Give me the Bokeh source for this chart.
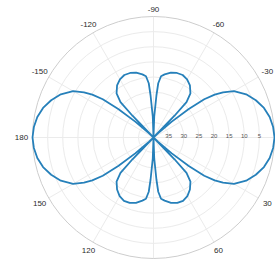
import numpy as np
from bokeh.plotting import figure
from bokeh.models import Range1d
from bokeh.core.properties import value
from bokeh.embed import file_html
from bokeh.resources import INLINE

# ---- data (angle in degrees, clockwise from 0 at right; radial value, 40 at centre, 0 at rim)
theta_deg = [-180, -175, -170, -165, -160, -155, -150, -147, -145, -143, -141, -139, -137, -135,
             -134, -133, -130, -125, -120, -115, -110, -105, -100, -97, -95, -94, -92, -90,
             -88, -86, -85, -83, -80, -75, -70, -65, -60, -55, -50, -47, -46, -45,
             -43, -41, -39, -37, -35, -33, -30, -25, -20, -15, -10, -5, 0,
             5, 10, 15, 20, 25, 30, 33, 35, 37, 39, 41, 43, 45,
             46, 47, 50, 55, 60, 65, 70, 75, 80, 83, 85, 86, 88, 90,
             92, 94, 95, 97, 100, 105, 110, 115, 120, 125, 130, 133, 134, 135,
             137, 139, 141, 143, 145, 147, 150, 155, 160, 165, 170, 175, 180]
level = [0, 0.3, 1.0, 2.2, 4.0, 6.2, 9.3, 12.6, 15.3, 19, 25, 32, 38, 40,
         30, 24, 21, 19, 17.8, 17.2, 17.3, 17.8, 18.8, 19.6, 22, 26, 33, 40,
         33, 26, 22, 19.6, 18.8, 17.8, 17.3, 17.2, 17.8, 19, 21, 24, 30, 40,
         38, 32, 25, 19, 15.3, 12.6, 9.3, 6.2, 4.0, 2.2, 1.0, 0.3, 0,
         0.3, 1.0, 2.2, 4.0, 6.2, 9.3, 12.6, 15.3, 19, 25, 32, 38, 40,
         30, 24, 21, 19, 17.6, 16.9, 17.0, 17.6, 18.8, 19.6, 22, 26, 33, 40,
         33, 26, 22, 19.6, 18.8, 17.6, 17.0, 16.9, 17.6, 19, 21, 24, 30, 40,
         38, 32, 25, 19, 15.3, 12.6, 9.3, 6.2, 4.0, 2.2, 1.0, 0.3, 0]

theta_ticks = [-150, -120, -90, -60, -30, 0, 30, 60, 90, 120, 150, 180]
theta_labels = ["-150", "-120", "-90", "-60", "-30", "0", "30", "60", "90", "120", "150", "180"]
r_ticks = [35, 30, 25, 20, 15, 10, 5]
r_labels = ["35", "30", "25", "20", "15", "10", "5"]
r_center, r_rim = 40, 0

# ---- polar scale (pixels)
R = 121.0
def rad(v):
    return (r_center - np.asarray(v, dtype=float)) / (r_center - r_rim) * R

def xy(theta, v):
    t = np.deg2rad(np.asarray(theta, dtype=float))
    d = rad(v)
    return d * np.cos(t), -d * np.sin(t)

p = figure(width=275, height=262, x_range=Range1d(-153, 122), y_range=Range1d(-125, 137),
           output_backend="svg", toolbar_location=None, min_border=0)
p.xaxis.visible = False
p.yaxis.visible = False
p.grid.visible = False
p.outline_line_color = None
p.background_fill_color = "white"
p.border_fill_color = "white"

# grid rings
ring_r = [float(rad(v)) for v in r_ticks]
p.circle(x=[0] * len(ring_r), y=[0] * len(ring_r), radius=ring_r,
         fill_color=None, line_color="#ebebeb", line_width=1)
# spokes
sx, sy = xy(theta_ticks, [r_rim] * len(theta_ticks))
p.segment(x0=[0] * len(sx), y0=[0] * len(sx), x1=sx, y1=sy, line_color="#ebebeb", line_width=1)
# outer rim
p.circle(x=[0], y=[0], radius=[R], fill_color=None, line_color="#cdcdcd", line_width=1)

# curve
cx, cy = xy(theta_deg, level)
p.line(cx, cy, line_color="#2680ba", line_width=1.8)

# theta labels (only those inside the visible window)
t = np.deg2rad(np.asarray(theta_ticks, dtype=float))
dl = R + 7 + 4 * np.abs(np.cos(t))
lx, ly = dl * np.cos(t), -dl * np.sin(t)
keep = [i for i in range(len(theta_ticks)) if -150 < lx[i] < 117 and -121 < ly[i] < 134]
p.text(x=[lx[i] for i in keep], y=[ly[i] for i in keep], text=[theta_labels[i] for i in keep],
       text_font=value("Liberation Sans"), text_font_size="8px", text_color="#2b2b2b",
       text_align="center", text_baseline="middle")

# radial labels along 0 degrees
p.text(x=list(rad(r_ticks)), y=[1.5] * len(r_ticks), text=r_labels,
       text_font=value("Liberation Sans"), text_font_size="6px", text_color="#555555",
       text_align="center", text_baseline="middle")

open("out.html", "w").write(file_html(p, INLINE))
